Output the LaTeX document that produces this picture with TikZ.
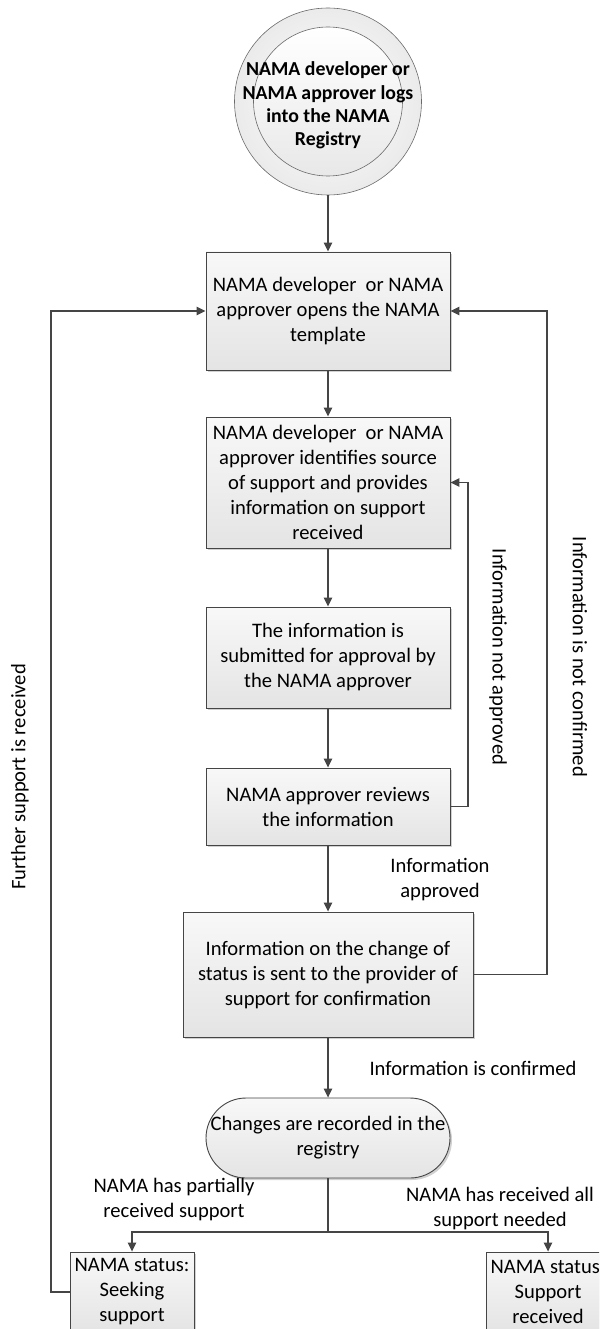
\documentclass[tikz,border=0pt]{standalone}
\usepackage{fontspec}
\setmainfont{Carlito}
\usetikzlibrary{arrows.meta,shadows}
\definecolor{linec}{HTML}{454545}
\definecolor{boxtop}{HTML}{F8F8F8}
\definecolor{boxbot}{HTML}{E4E4E4}
\newcommand\diafs{\fontsize{20.6}{25}\selectfont}
\newcommand\diabf{\fontsize{19.8}{23.3}\selectfont\bfseries}
\begin{document}
\begin{tikzpicture}[x=1pt,y=-1pt,
  stepbox/.style={draw=linec, line width=0.9pt, top color=boxtop, bottom color=boxbot,
    minimum width=244pt, inner sep=0pt, align=center, font=\diafs,
    drop shadow={shadow xshift=2pt, shadow yshift=-2pt, fill=black!18, opacity=1}},
  conn/.style={draw=linec, line width=1.3pt, -{Triangle[length=9pt,width=8.5pt]}},
  plain/.style={draw=linec, line width=1.3pt},
  lbl/.style={align=center, font=\diafs, inner sep=0pt}]
\clip (0,0) rectangle (599,1329);
\useasboundingbox (0,0) rectangle (599,1329);

% start circle
\node[circle, draw=linec!80, line width=0.6pt, inner color=white, outer color=black!8,
      minimum size=187pt, inner sep=0pt] (start) at (328,101.5) {};
\draw[draw=linec!80, line width=0.6pt, top color=white, bottom color=black!9]
      (start.center) circle (74.5);
\node[align=center, font=\diabf, inner sep=0pt] (starttext) at (328,105.5)
  {NAMA developer or\\NAMA approver logs\\into the NAMA\\Registry};

% main column
\node[stepbox, minimum height=118pt] (b1) at (328,311)
  {NAMA developer\ \ or NAMA\\approver opens the NAMA\\template};
\node[stepbox, minimum height=131pt] (b2) at (328,482.5)
  {NAMA developer\ \ or NAMA\\approver identifies source\\of support and provides\\information on support\\received};
\node[stepbox, minimum height=101pt] (b3) at (328,657.5)
  {The information is\\submitted for approval by\\the NAMA approver};
\node[stepbox, minimum height=77pt] (b4) at (328,806.5)
  {NAMA approver reviews\\the information};
\node[stepbox, minimum height=125pt, minimum width=290pt] (b5) at (328,974.5)
  {Information on the change of\\status is sent to the provider of\\support for confirmation};
\node[stepbox, minimum height=80pt, rounded corners=40pt] (rec) at (328,1138)
  {Changes are recorded in the\\registry};
\node[stepbox, minimum height=80pt, minimum width=124pt] (seek) at (132,1292)
  {NAMA status:\\Seeking\\support};
\node[stepbox, minimum height=80pt, minimum width=124pt] (recv) at (548,1292)
  {NAMA status:\\Support\\received};

% straight connectors
\draw[conn] (start.south) -- (b1.north);
\draw[conn] (b1.south) -- (b2.north);
\draw[conn] (b2.south) -- (b3.north);
\draw[conn] (b3.south) -- (b4.north);
\draw[conn] (b4.south) -- (b5.north);
\draw[conn] (b5.south) -- (rec.north);

% branch
\coordinate (br) at (328,1232);
\draw[plain] (rec.south) -- (br);
\draw[conn] (br) -| (seek.north);
\draw[conn] (br) -| (recv.north);

% loops
\coordinate (lna) at (468,0);
\coordinate (lnc) at (547,0);
\coordinate (lfs) at (51,0);
\draw[conn] (b4.east) -- (b4.east -| lna) -- (b2.east -| lna) -- (b2.east);
\draw[conn] (b5.east) -- (b5.east -| lnc) -- (b1.east -| lnc) -- (b1.east);
\draw[conn] (seek.west) -- (seek.west -| lfs) -- (b1.west -| lfs) -- (b1.west);

% labels
\node[lbl] (tappr) at (440,880) {Information\\approved};
\node[lbl] (tconf) at (473,1068) {Information is confirmed};
\node[lbl] (tpart) at (174,1199.5) {NAMA has partially\\received support};
\node[lbl] (tall) at (500,1208.5) {NAMA has received all\\support needed};
\node[lbl, rotate=-90] (tnappr) at (498,657) {Information not approved};
\node[lbl, rotate=-90] (tnconf) at (580,657) {Information is not confirmed};
\node[lbl, rotate=90] (tfurther) at (20,777) {Further support is received};
\end{tikzpicture}
\end{document}
